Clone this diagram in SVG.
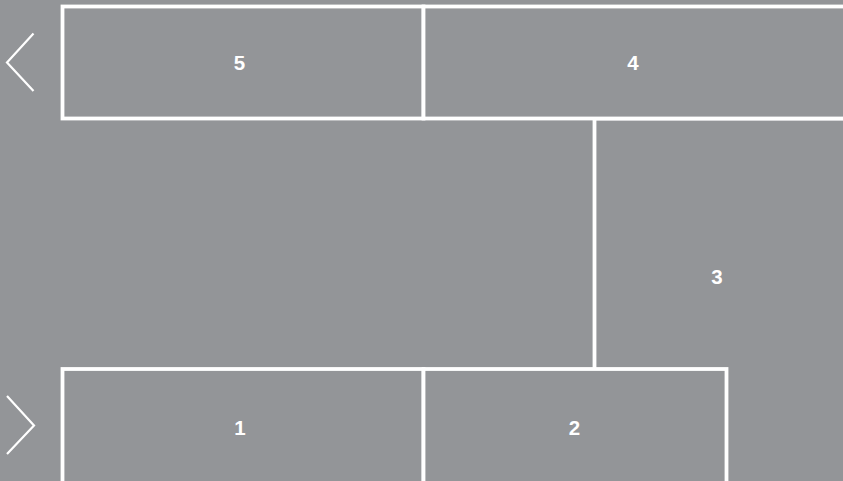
<svg xmlns="http://www.w3.org/2000/svg" width="843" height="481" viewBox="0 0 843 481">
<style>
.box{fill:#939598;stroke:#ffffff;stroke-width:3.8}
.lbl{font-family:"Liberation Sans",Arial,sans-serif;font-weight:bold;font-size:20.5px;fill:#ffffff;text-anchor:middle}
.chev{fill:none;stroke:#ffffff;stroke-width:2.2}
</style>
<rect width="843" height="481" fill="#939598"/>
<g id="node3"><rect class="box" x="594.5" y="118.5" width="260" height="380"/><text class="lbl" x="717" y="284">3</text></g>
<g id="node5"><rect class="box" x="62.5" y="6.5" width="361" height="112"/><text class="lbl" x="239.5" y="70">5</text></g>
<g id="node4"><rect class="box" x="423.5" y="6.5" width="430" height="112"/><text class="lbl" x="633" y="70">4</text></g>
<g id="node1"><rect class="box" x="62.5" y="369" width="361" height="120"/><text class="lbl" x="240" y="435">1</text></g>
<g id="node2"><rect class="box" x="423.5" y="369" width="303" height="120"/><text class="lbl" x="574.5" y="435">2</text></g>
<g id="connectors">
<polyline class="chev" points="33.5,33.5 7,62.5 33.5,91"/>
<polyline class="chev" points="7,396 34,425.5 7,454"/>
</g>
</svg>
